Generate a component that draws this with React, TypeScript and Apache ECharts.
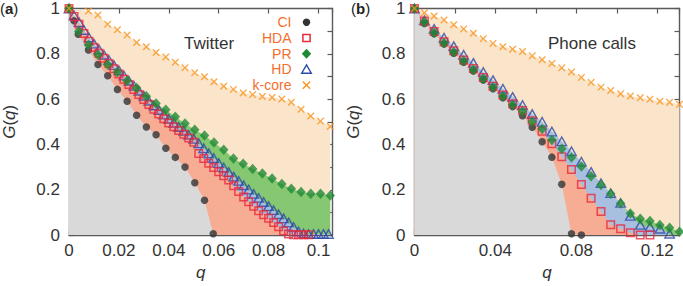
import { useEffect, useRef } from 'react';
import * as echarts from 'echarts';

const FONT = '"Liberation Sans", Arial, Helvetica, sans-serif';

// ---------- Panel (a): Twitter ----------
const A_CI_Q = [0, 0.002, 0.0037, 0.0078, 0.0116, 0.0155, 0.0194, 0.0233, 0.0271, 0.031, 0.0349, 0.0388, 0.0426, 0.0465, 0.0504, 0.0543, 0.0578];
const A_CI_G = [1, 0.946, 0.886, 0.817, 0.753, 0.703, 0.643, 0.591, 0.529, 0.477, 0.443, 0.383, 0.343, 0.3, 0.231, 0.154, 0.006];

const A_PR_Q = [0, 0.0039, 0.0078, 0.0116, 0.0155, 0.0194, 0.0233, 0.0271, 0.031, 0.0349, 0.0388, 0.0426, 0.0465, 0.0504, 0.0543, 0.0581, 0.062, 0.0659, 0.0698, 0.0736, 0.0775, 0.0814, 0.0853, 0.0891, 0.093, 0.0969, 0.1008, 0.1047];
const A_PR_G = [1, 0.9, 0.839, 0.796, 0.753, 0.72, 0.681, 0.649, 0.613, 0.581, 0.553, 0.522, 0.492, 0.465, 0.44, 0.409, 0.377, 0.338, 0.315, 0.292, 0.272, 0.25, 0.225, 0.205, 0.19, 0.183, 0.183, 0.175];

const A_KCORE_Q = [0, 0.0078, 0.0116, 0.0155, 0.0194, 0.0233, 0.0271, 0.031, 0.0349, 0.0388, 0.0426, 0.0465, 0.0504, 0.0543, 0.0581, 0.062, 0.0659, 0.0698, 0.0736, 0.0775, 0.0814, 0.0853, 0.0891, 0.093, 0.0969, 0.1008, 0.1047];
const A_KCORE_G = [1, 0.989, 0.971, 0.931, 0.906, 0.883, 0.85, 0.831, 0.806, 0.786, 0.763, 0.739, 0.717, 0.699, 0.677, 0.657, 0.643, 0.627, 0.62, 0.612, 0.607, 0.601, 0.586, 0.555, 0.526, 0.503, 0.479];

const A_HDA_Q = [0, 0.002, 0.004, 0.006, 0.008, 0.01, 0.012, 0.014, 0.016, 0.018, 0.02, 0.022, 0.024, 0.026, 0.028, 0.03, 0.032, 0.034, 0.036, 0.038, 0.04, 0.042, 0.044, 0.046, 0.048, 0.05, 0.052, 0.054, 0.056, 0.058, 0.06, 0.062, 0.064, 0.066, 0.068, 0.07, 0.072, 0.074, 0.076, 0.078, 0.08, 0.082, 0.084, 0.086, 0.088, 0.09, 0.092, 0.094, 0.096];
const A_HDA_G = [1, 0.965, 0.93, 0.89, 0.855, 0.828, 0.803, 0.78, 0.757, 0.734, 0.711, 0.688, 0.665, 0.642, 0.62, 0.598, 0.576, 0.555, 0.534, 0.513, 0.495, 0.478, 0.462, 0.445, 0.428, 0.41, 0.36, 0.338, 0.317, 0.298, 0.28, 0.262, 0.243, 0.218, 0.192, 0.168, 0.147, 0.127, 0.108, 0.09, 0.074, 0.056, 0.037, 0.018, 0.005, 0.002, 0.001, 0.001, 0.001];

const A_HD_Q = [0, 0.002, 0.004, 0.006, 0.008, 0.01, 0.012, 0.014, 0.016, 0.018, 0.02, 0.022, 0.024, 0.026, 0.028, 0.03, 0.032, 0.034, 0.036, 0.038, 0.04, 0.042, 0.044, 0.046, 0.048, 0.05, 0.052, 0.054, 0.056, 0.058, 0.06, 0.062, 0.064, 0.066, 0.068, 0.07, 0.072, 0.074, 0.076, 0.078, 0.08, 0.082, 0.084, 0.086, 0.088, 0.09, 0.092, 0.094, 0.096, 0.098, 0.1, 0.102, 0.104];
const A_HD_G = [1, 0.97, 0.94, 0.905, 0.872, 0.845, 0.82, 0.796, 0.773, 0.75, 0.727, 0.704, 0.681, 0.659, 0.637, 0.615, 0.593, 0.572, 0.552, 0.532, 0.513, 0.495, 0.477, 0.46, 0.442, 0.425, 0.405, 0.383, 0.361, 0.34, 0.318, 0.298, 0.278, 0.258, 0.239, 0.22, 0.201, 0.182, 0.164, 0.146, 0.128, 0.11, 0.092, 0.074, 0.056, 0.036, 0.016, 0.007, 0.005, 0.005, 0.005, 0.005, 0.005];

// ---------- Panel (b): Phone calls ----------
const B_Q = [0, 0.0049, 0.0097, 0.0146, 0.0194, 0.0243, 0.0291, 0.034, 0.0388, 0.0437, 0.0485, 0.0534, 0.0582, 0.0631, 0.0679, 0.0728, 0.0776, 0.0825, 0.0873, 0.0922, 0.097, 0.1019, 0.1067, 0.1116, 0.1164, 0.1213, 0.1261, 0.131];
const B_KCORE_G = [1, 0.981, 0.967, 0.949, 0.928, 0.91, 0.891, 0.867, 0.846, 0.831, 0.82, 0.81, 0.791, 0.774, 0.757, 0.738, 0.72, 0.696, 0.674, 0.653, 0.638, 0.624, 0.614, 0.606, 0.6, 0.591, 0.586, 0.577];
const B_CI_G = [1, 0.934, 0.889, 0.843, 0.803, 0.763, 0.724, 0.684, 0.646, 0.606, 0.567, 0.527, 0.476, 0.412, 0.344, 0.224, 0.006, 0.0];
const B_HDA_G = [1, 0.945, 0.898, 0.853, 0.813, 0.773, 0.735, 0.695, 0.657, 0.618, 0.58, 0.55, 0.505, 0.458, 0.403, 0.346, 0.289, 0.223, 0.163, 0.104, 0.046, 0.028, 0.01, 0.0, 0.0];
const B_HD_G = [1, 0.948, 0.91, 0.871, 0.834, 0.796, 0.76, 0.72, 0.684, 0.646, 0.61, 0.574, 0.534, 0.5, 0.457, 0.414, 0.37, 0.324, 0.279, 0.229, 0.185, 0.142, 0.085, 0.045, 0.036, 0.028, 0.006];
const B_PR_G = [1, 0.94, 0.893, 0.848, 0.808, 0.768, 0.73, 0.69, 0.652, 0.613, 0.575, 0.545, 0.5, 0.468, 0.42, 0.381, 0.343, 0.303, 0.26, 0.221, 0.182, 0.139, 0.095, 0.072, 0.062, 0.045, 0.032, 0.015];

const LEGEND_NAMES = ['CI', 'HDA', 'PR', 'HD', 'k-core'];
const PANEL_TITLES = ['Twitter', 'Phone calls'];
const PANEL_TAGS = ['a', 'b'];
const Y_TICK_STEP = 0.1;
const X_TICK_STEP = 0.02;

const C = {
  ci: '#333333',
  hda: '#e8283c',
  pr: '#1f8a36',
  hd: '#2c4aa6',
  kcore: '#f7941d',
  legendText: '#f26f2c',
  fillCI: '#d9d9d9',
  fillHDA: '#f6ad94',
  fillHD: '#a9bfe0',
  fillPR: '#86c872',
  fillK: '#fbe5ca',
  axis: '#5a5a5a',
  text: '#333333',
};

const zip = (q: number[], g: number[]) => g.map((v, i) => [q[i], v]);
const X_SYMBOL = 'path://M0,1.3L1.3,0L5,3.7L8.7,0L10,1.3L6.3,5L10,8.7L8.7,10L5,6.3L1.3,10L0,8.7L3.7,5Z';

const GRIDS = [
  { left: 64.5, top: 7.5, width: 268, height: 233.2 },
  { left: 414.5, top: 7.5, width: 265, height: 233.2 },
];
const XMAX = [0.1056, 0.131];

function fmtX(v: number, every: number) {
  const k = Math.round(v / X_TICK_STEP);
  if (Math.abs(v - k * X_TICK_STEP) > 1e-6) return '';
  if (k % every !== 0) return '';
  return String(+v.toFixed(2));
}
function fmtY(v: number) {
  const k = Math.round(v / Y_TICK_STEP);
  if (k % 2 !== 0) return '';
  return String(k / 10);
}

const lineStyle = { color: C.axis, width: 1.4 };
const tickStyle = { show: true, inside: true, length: 5, lineStyle: { color: C.axis, width: 1.2 } };

function makeX(gi: number, every: number) {
  const base = {
    type: 'value' as const,
    gridIndex: gi,
    min: 0,
    max: XMAX[gi],
    interval: X_TICK_STEP,
    splitLine: { show: false },
    axisLine: { show: true, onZero: false, lineStyle },
    axisTick: tickStyle,
  };
  return [
    {
      ...base,
      position: 'bottom',
      axisLabel: {
        formatter: (v: number) => fmtX(v, every),
        showMaxLabel: false,
        color: C.text,
        fontSize: 17,
        fontFamily: FONT,
        margin: 7,
      },
      name: 'q',
      nameLocation: 'middle',
      nameGap: 24,
      nameTextStyle: { fontSize: 17, fontStyle: 'italic', fontFamily: FONT, color: C.text },
    },
    { ...base, position: 'top', axisLabel: { show: false } },
  ];
}
function makeY(gi: number, gap: number) {
  const base = {
    type: 'value' as const,
    gridIndex: gi,
    min: 0,
    max: 1,
    interval: Y_TICK_STEP,
    splitLine: { show: false },
    axisLine: { show: true, onZero: false, lineStyle },
    axisTick: tickStyle,
  };
  return [
    {
      ...base,
      position: 'left',
      axisLabel: { formatter: fmtY, color: C.text, fontSize: 17, fontFamily: FONT, margin: 9 },
      name: '{i|G}{n|(}{i|q}{n|)}',
      nameLocation: 'middle',
      nameGap: gap,
      nameTextStyle: {
        color: C.text,
        rich: {
          i: { fontStyle: 'italic', fontSize: 17, fontFamily: FONT, color: C.text },
          n: { fontSize: 17, fontFamily: FONT, color: C.text },
        },
      },
    },
    { ...base, position: 'right', axisLabel: { show: false } },
  ];
}

function area(axis: number, data: number[][], color: string) {
  return {
    type: 'line',
    xAxisIndex: axis * 2,
    yAxisIndex: axis * 2,
    data,
    symbol: 'none',
    showSymbol: false,
    lineStyle: { width: 0, opacity: 0 },
    areaStyle: { color, opacity: 1 },
    silent: true,
    z: 1,
  };
}
function pts(axis: number, data: number[][], kind: string) {
  const common = { type: 'scatter', xAxisIndex: axis * 2, yAxisIndex: axis * 2, data, silent: true, z: 3 };
  switch (kind) {
    case 'ci':
      return { ...common, symbol: 'circle', symbolSize: 7.5, itemStyle: { color: C.ci } };
    case 'hda':
      return { ...common, symbol: 'rect', symbolSize: 7.5, itemStyle: { color: 'rgba(0,0,0,0)', borderColor: C.hda, borderWidth: 1.5 } };
    case 'pr':
      return { ...common, symbol: 'diamond', symbolSize: [9.5, 10.5], itemStyle: { color: C.pr } };
    case 'hd':
      return { ...common, symbol: 'triangle', symbolSize: [9.5, 8.5], itemStyle: { color: 'rgba(0,0,0,0)', borderColor: C.hd, borderWidth: 1.4 } };
    default:
      return { ...common, symbol: X_SYMBOL, symbolSize: 7.5, itemStyle: { color: C.kcore } };
  }
}

function panelSeries(axis: number, d: { ci: number[][]; hda: number[][]; pr: number[][]; hd: number[][]; k: number[][] }) {
  return [
    area(axis, d.k, C.fillK),
    area(axis, d.pr, C.fillPR),
    area(axis, d.hd, C.fillHD),
    area(axis, d.hda, C.fillHDA),
    area(axis, d.ci, C.fillCI),
    pts(axis, d.ci, 'ci'),
    pts(axis, d.hd, 'hd'),
    pts(axis, d.hda, 'hda'),
    pts(axis, d.pr, 'pr'),
    pts(axis, d.k, 'k'),
  ];
}

const A = {
  ci: zip(A_CI_Q, A_CI_G),
  hda: zip(A_HDA_Q, A_HDA_G),
  pr: zip(A_PR_Q, A_PR_G),
  hd: zip(A_HD_Q, A_HD_G),
  k: zip(A_KCORE_Q, A_KCORE_G),
};
const B = {
  ci: zip(B_Q, B_CI_G),
  hda: zip(B_Q, B_HDA_G),
  pr: zip(B_Q, B_PR_G),
  hd: zip(B_Q, B_HD_G),
  k: zip(B_Q, B_KCORE_G),
};

// legend (panel a)
const LX_TEXT = 291.5;
const LX_SYM = 306.5;
const LROW = 15.7;
const LY0 = 22.3;
const LY = LEGEND_NAMES.map((_, i) => LY0 + i * LROW);
const legendGraphics: any[] = LEGEND_NAMES.map((name, i) => ({
  type: 'text',
  x: LX_TEXT,
  y: LY[i],
  style: { text: name, fill: C.legendText, font: `14px ${FONT}`, align: 'right', verticalAlign: 'middle' },
  z: 10,
}));
legendGraphics.push(
  { type: 'circle', shape: { cx: LX_SYM, cy: LY[0], r: 3.7 }, style: { fill: C.ci }, z: 10 },
  { type: 'rect', shape: { x: LX_SYM - 3.6, y: LY[1] - 3.6, width: 7.2, height: 7.2 }, style: { fill: 'none', stroke: C.hda, lineWidth: 1.5 }, z: 10 },
  {
    type: 'polygon',
    shape: { points: [[LX_SYM, LY[2] - 5], [LX_SYM + 4.7, LY[2]], [LX_SYM, LY[2] + 5], [LX_SYM - 4.7, LY[2]]] },
    style: { fill: C.pr },
    z: 10,
  },
  {
    type: 'polygon',
    shape: { points: [[LX_SYM, LY[3] - 4.5], [LX_SYM + 4.8, LY[3] + 3.8], [LX_SYM - 4.8, LY[3] + 3.8]] },
    style: { fill: 'none', stroke: C.hd, lineWidth: 1.4 },
    z: 10,
  },
  { type: 'line', shape: { x1: LX_SYM - 3.7, y1: LY[4] - 3.7, x2: LX_SYM + 3.7, y2: LY[4] + 3.7 }, style: { stroke: C.kcore, lineWidth: 1.4 }, z: 10 },
  { type: 'line', shape: { x1: LX_SYM - 3.7, y1: LY[4] + 3.7, x2: LX_SYM + 3.7, y2: LY[4] - 3.7 }, style: { stroke: C.kcore, lineWidth: 1.4 }, z: 10 },
);

const tagStyle = (tag: string) => ({
  text: '{n|(}{b|' + tag + '}{n|)}',
  verticalAlign: 'middle',
  rich: { n: { font: `15px ${FONT}`, fill: '#222' }, b: { font: `bold 15px ${FONT}`, fill: '#222' } },
});

const textGraphics = [
  { type: 'text', x: 0, y: 8, style: tagStyle(PANEL_TAGS[0]), z: 10 },
  { type: 'text', x: 351, y: 8, style: tagStyle(PANEL_TAGS[1]), z: 10 },
  { type: 'text', x: 184, y: 43, style: { text: PANEL_TITLES[0], font: `17px ${FONT}`, fill: C.text, verticalAlign: 'middle' }, z: 10 },
  { type: 'text', x: 548, y: 43, style: { text: PANEL_TITLES[1], font: `17px ${FONT}`, fill: C.text, verticalAlign: 'middle' }, z: 10 },
];

const option: any = {
  animation: false,
  backgroundColor: '#ffffff',
  grid: GRIDS.map((g) => ({ ...g, containLabel: false })),
  xAxis: [...makeX(0, 1), ...makeX(1, 2)],
  yAxis: [...makeY(0, 51), ...makeY(1, 53)],
  series: [...panelSeries(0, A), ...panelSeries(1, B)],
  graphic: [...textGraphics, ...legendGraphics],
};

export default function App() {
  const ref = useRef<HTMLDivElement>(null);
  useEffect(() => {
    const chart = echarts.init(ref.current!, null, { renderer: 'svg' });
    chart.setOption(option);
    return () => chart.dispose();
  }, []);
  return (
    <div
      ref={ref}
      style={{ position: 'fixed', left: 0, top: 0, width: 683, height: 286, background: '#ffffff' }}
    />
  );
}
